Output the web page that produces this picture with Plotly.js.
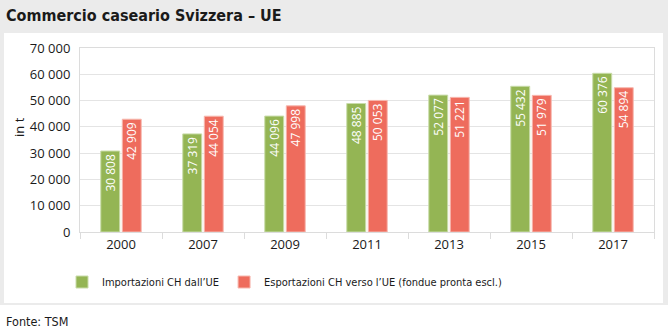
<!DOCTYPE html>
<html>
<head>
<meta charset="utf-8">
<script src="https://cdn.plot.ly/plotly-3.0.1.min.js"></script>
<style>
html,body{margin:0;padding:0;background:#fff;}
#chart{width:668px;height:334px;}
</style>
</head>
<body>
<div id="chart"></div>
<script>
var years = ["2000", "2007", "2009", "2011", "2013", "2015", "2017"];
var importsCH = [30808, 37319, 44096, 48885, 52077, 55432, 60376];
var exportsCH = [42909, 44054, 47998, 50053, 51221, 51979, 54894];
var seriesNames = ["Importazioni CH dall\u2019UE", "Esportazioni CH verso l\u2019UE (fondue pronta escl.)"];
var yTicks = [0, 10000, 20000, 30000, 40000, 50000, 60000, 70000];

var W = 668, H = 334;
var M = {l: 80, r: 14, t: 48, b: 102};
var pw = W - M.l - M.r, ph = H - M.t - M.b;
function xp(px){ return (px - M.l) / pw; }
function yp(py){ return (H - M.b - py) / ph; }

var condensed = "Liberation Sans Narrow, DejaVu Sans Condensed, Roboto Condensed, Roboto, sans-serif";
var regular = "Open Sans, Noto Sans, sans-serif";

var trImp = {
  type: "bar", name: seriesNames[0], x: years, y: importsCH,
  marker: {color: "#94b554", line: {color: "#c9dcaa", width: 1}},
  texttemplate: "%{y:,d}", textposition: "inside", insidetextanchor: "end",
  constraintext: "none",
  textangle: -90, textfont: {color: "#ffffff", size: 12, family: regular},
  hoverinfo: "none"
};
var trExp = {
  type: "bar", name: seriesNames[1], x: years, y: exportsCH,
  marker: {color: "#ee6c5d", line: {color: "#f7b8af", width: 1}},
  texttemplate: "%{y:,d}", textposition: "inside", insidetextanchor: "end",
  constraintext: "none",
  textangle: -90, textfont: {color: "#ffffff", size: 12, family: regular},
  hoverinfo: "none"
};

var layout = {
  width: W, height: H,
  margin: M,
  separators: ", ",
  paper_bgcolor: "#ffffff",
  plot_bgcolor: "rgba(0,0,0,0)",
  font: {family: regular, size: 13, color: "#1a1a1a"},
  barmode: "group",
  bargap: 0.475,
  bargroupgap: 0.12,
  uniformtext: {mode: false},
  showlegend: true,
  legend: {
    orientation: "h", x: xp(62), xanchor: "left", y: yp(282), yanchor: "middle",
    font: {family: condensed, size: 11, color: "#1a1a1a"},
    itemwidth: 30, traceorder: "normal", bgcolor: "rgba(0,0,0,0)"
  },
  xaxis: {
    type: "category", showgrid: false,
    showline: true, linecolor: "#dcdcdc", linewidth: 1, mirror: true,
    ticks: "outside", tickson: "boundaries", ticklen: 6, tickcolor: "#dcdcdc",
    tickfont: {size: 13, color: "#1a1a1a"}, fixedrange: true
  },
  yaxis: {
    range: [0, 70000], tickvals: yTicks, tickformat: ",d",
    showgrid: true, gridcolor: "#e4e4e4", gridwidth: 1,
    showline: true, linecolor: "#dcdcdc", linewidth: 1, mirror: true,
    zeroline: false, ticks: "", ticklabelstandoff: 6,
    tickfont: {size: 13, color: "#1a1a1a"}, fixedrange: true
  },
  shapes: [
    {type: "rect", xref: "paper", yref: "paper", layer: "below",
     x0: xp(0), x1: xp(668), y0: yp(305), y1: yp(0),
     fillcolor: "#ebebeb", line: {width: 0}},
    {type: "rect", xref: "paper", yref: "paper", layer: "below",
     x0: xp(4), x1: xp(663), y0: yp(303), y1: yp(33),
     fillcolor: "#ffffff", line: {width: 0}}
  ],
  annotations: [
    {text: "<b>Commercio caseario Svizzera \u2013 UE</b>", xref: "paper", yref: "paper",
     x: xp(4), y: yp(15.5), xanchor: "left", yanchor: "middle", showarrow: false,
     font: {family: condensed, size: 16, color: "#1a1a1a"}},
    {text: "Fonte: TSM", xref: "paper", yref: "paper",
     x: xp(4), y: yp(321), xanchor: "left", yanchor: "middle", showarrow: false,
     font: {family: condensed, size: 12.5, color: "#1a1a1a"}},
    {text: "in t", xref: "paper", yref: "paper", textangle: -90,
     x: xp(19), y: yp(127), xanchor: "center", yanchor: "middle", showarrow: false,
     font: {family: regular, size: 13, color: "#1a1a1a"}}
  ]
};

Plotly.newPlot("chart", [trImp, trExp], layout, {displayModeBar: false, staticPlot: true});
</script>
</body>
</html>
